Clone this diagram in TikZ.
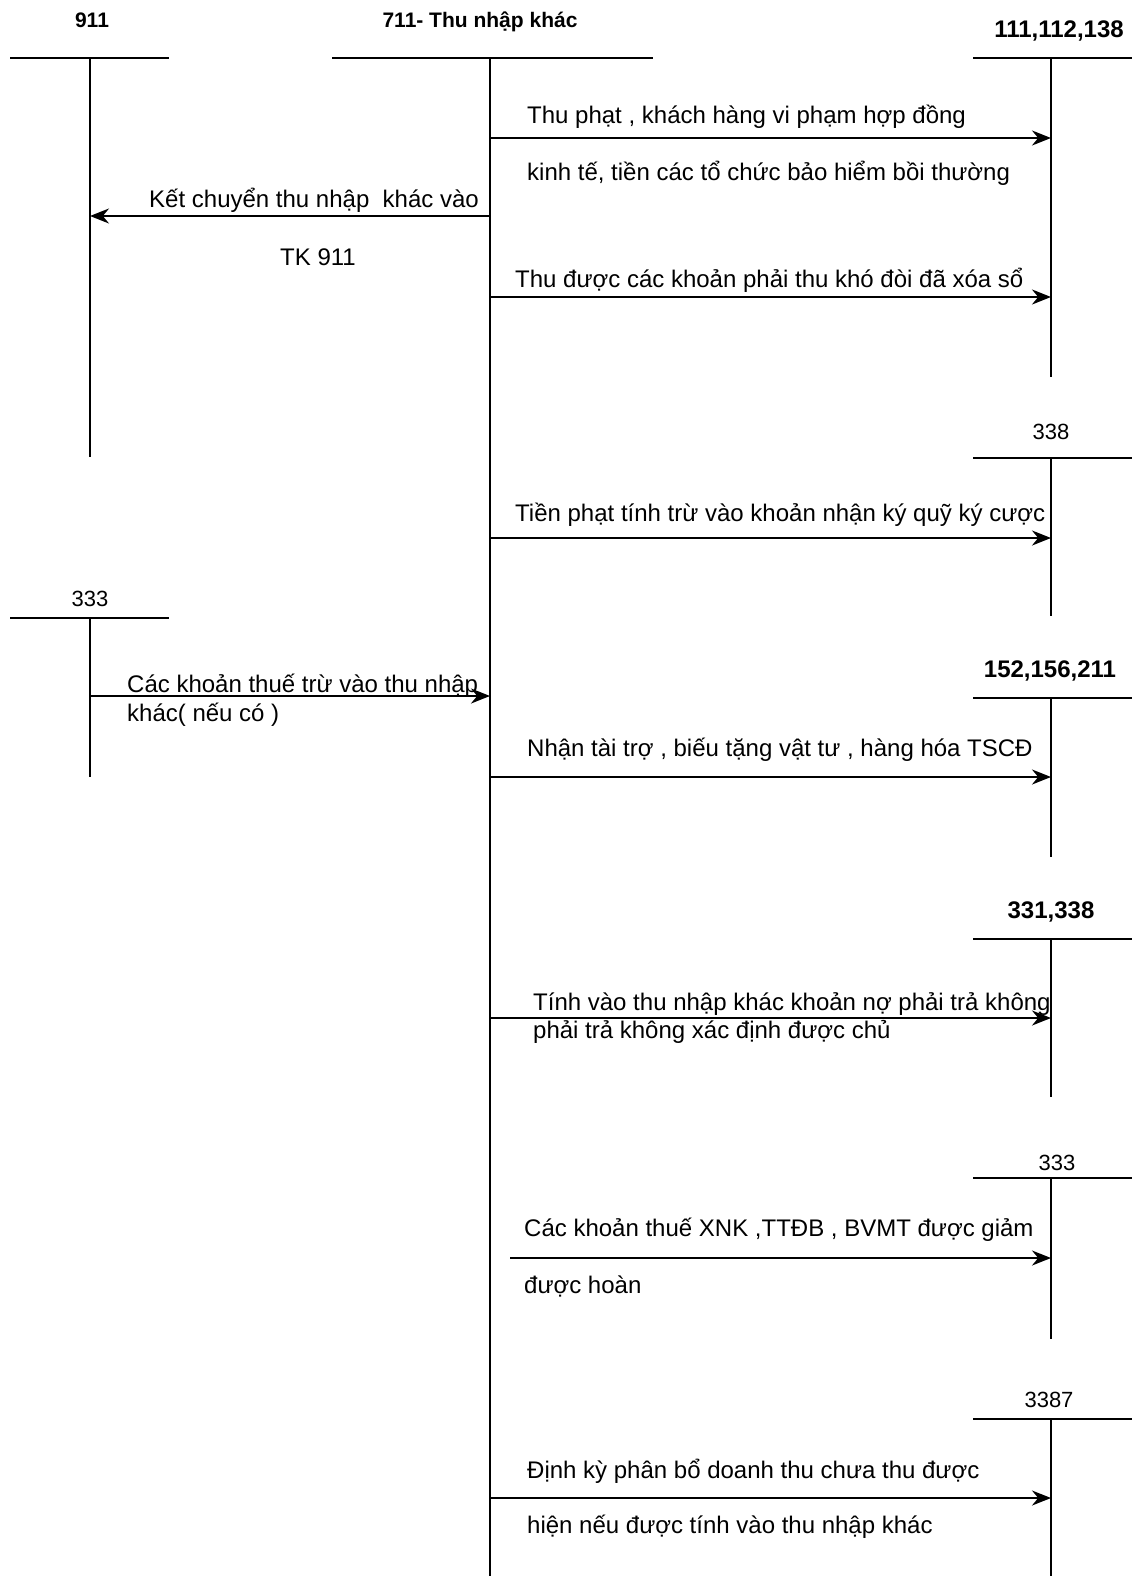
\documentclass[tikz,border=0pt]{standalone}
\usepackage{fontspec}
\setmainfont{Liberation Sans}
\usetikzlibrary{arrows.meta}

\begin{document}
\begin{tikzpicture}[
      x=1pt, y=-1pt,
      every node/.style={font=\fontsize{24}{28}\selectfont, inner sep=0pt},
      acct/.style={font=\fontsize{21}{25}\selectfont\bfseries},
      bigacct/.style={font=\fontsize{24}{28}\selectfont\bfseries},
      plainacct/.style={font=\fontsize{22}{26}\selectfont},
      tline/.style={line width=1.8pt},
      entry/.style={line width=1.8pt, -{Stealth[length=19pt,width=15pt]}},
      note/.style={anchor=west},
    ]
    \useasboundingbox (0,0) rectangle (1132,1576);

    % T accounts
    \node[acct] (n911) at (92,20) {911};
    \draw[tline] (10,58) -- (169,58);
    \coordinate (k911) at (90,58);
    \draw[tline] (k911) -- (90,457);

    \node[acct] (n711) at (480,22) {711- Thu nhập khác};
    \draw[tline] (332,58) -- (653,58);
    \coordinate (k711) at (490,58);
    \draw[tline] (k711) -- (490,1576);

    \node[bigacct] (n111) at (1059,31) {111,112,138};
    \draw[tline] (973,58) -- (1132,58);
    \coordinate (k111) at (1051,58);
    \draw[tline] (k111) -- (1051,377);

    \node[plainacct] (n338) at (1051,432) {338};
    \draw[tline] (973,458) -- (1132,458);
    \coordinate (k338) at (1051,458);
    \draw[tline] (k338) -- (1051,616);

    \node[plainacct] (n333a) at (90,599) {333};
    \draw[tline] (10,618) -- (169,618);
    \coordinate (k333a) at (90,618);
    \draw[tline] (k333a) -- (90,777);

    \node[bigacct] (n152) at (1050,671) {152,156,211};
    \draw[tline] (973,698) -- (1132,698);
    \coordinate (k152) at (1051,698);
    \draw[tline] (k152) -- (1051,857);

    \node[bigacct] (n331) at (1051,912) {331,338};
    \draw[tline] (973,939) -- (1132,939);
    \coordinate (k331) at (1051,939);
    \draw[tline] (k331) -- (1051,1097);

    \node[plainacct] (n333b) at (1057,1163) {333};
    \draw[tline] (973,1178) -- (1132,1178);
    \coordinate (k333b) at (1051,1178);
    \draw[tline] (k333b) -- (1051,1339);

    \node[plainacct] (n3387) at (1049,1400) {3387};
    \draw[tline] (973,1419) -- (1132,1419);
    \coordinate (k3387) at (1051,1419);
    \draw[tline] (k3387) -- (1051,1576);

    % Entries
    \coordinate (a1) at (490,138);  \coordinate (b1) at (1051,138);
    \draw[entry] (a1) -- (b1);
    \node[note] (t1a) at (527,117) {Thu phạt , khách hàng vi phạm hợp đồng};
    \node[note] (t1b) at (527,173) {kinh tế, tiền các tổ chức bảo hiểm bồi thường};

    \coordinate (a2) at (490,216);  \coordinate (b2) at (90,216);
    \draw[entry] (a2) -- (b2);
    \node[anchor=east] (t2a) at (479,200) {Kết chuyển thu nhập\ \ khác vào};
    \node (t2b) at (318,257) {TK 911};

    \coordinate (a3) at (490,297);  \coordinate (b3) at (1051,297);
    \draw[entry] (a3) -- (b3);
    \node[note] (t3) at (515,280) {Thu được các khoản phải thu khó đòi đã xóa sổ};

    \coordinate (a4) at (490,538);  \coordinate (b4) at (1051,538);
    \draw[entry] (a4) -- (b4);
    \node[note] (t4) at (515,515) {Tiền phạt tính trừ vào khoản nhận ký quỹ ký cược};

    \coordinate (a5) at (90,696);  \coordinate (b5) at (490,696);
    \draw[entry] (a5) -- (b5);
    \node[note] (t5a) at (127,686) {Các khoản thuế trừ vào thu nhập};
    \node[note] (t5b) at (127,715) {khác( nếu có )};

    \coordinate (a6) at (490,777);  \coordinate (b6) at (1051,777);
    \draw[entry] (a6) -- (b6);
    \node[note] (t6) at (527,750) {Nhận tài trợ , biếu tặng vật tư , hàng hóa TSCĐ};

    \coordinate (a7) at (490,1018);  \coordinate (b7) at (1051,1018);
    \draw[entry] (a7) -- (b7);
    \node[note] (t7a) at (533,1004) {Tính vào thu nhập khác khoản nợ phải trả không};
    \node[note] (t7b) at (533,1032) {phải trả không xác định được chủ};

    \coordinate (a8) at (510,1258);  \coordinate (b8) at (1051,1258);
    \draw[entry] (a8) -- (b8);
    \node[note] (t8a) at (524,1230) {Các khoản thuế XNK ,TTĐB , BVMT được giảm};
    \node[note] (t8b) at (524,1286) {được hoàn};

    \coordinate (a9) at (490,1498);  \coordinate (b9) at (1051,1498);
    \draw[entry] (a9) -- (b9);
    \node[note] (t9a) at (527,1471) {Định kỳ phân bổ doanh thu chưa thu được};
    \node[note] (t9b) at (527,1527) {hiện nếu được tính vào thu nhập khác};
  \end{tikzpicture}
\end{document}
